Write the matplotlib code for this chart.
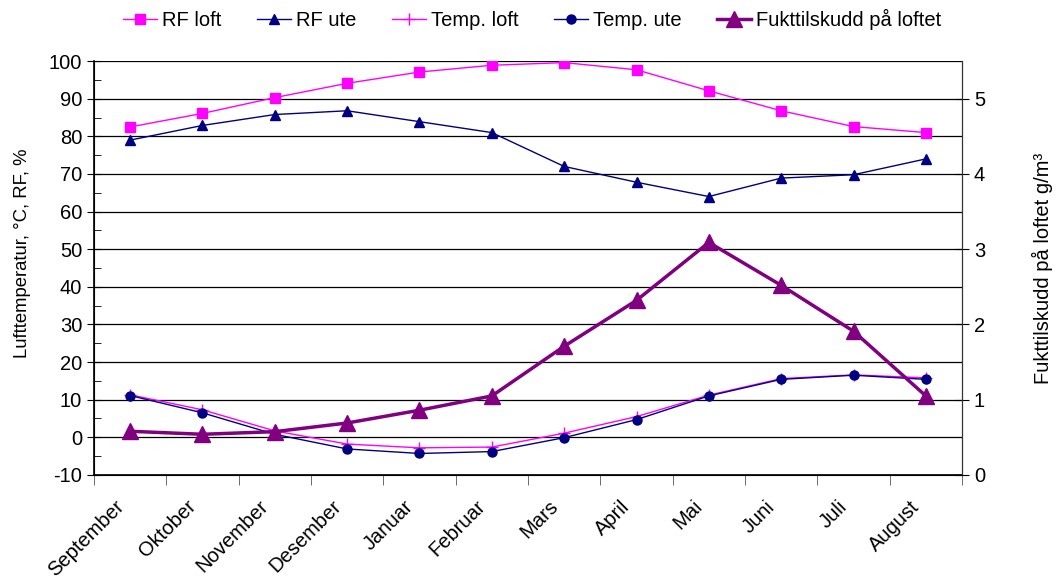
import matplotlib
matplotlib.use("Agg")
import matplotlib.pyplot as plt
import matplotlib.transforms as mtransforms
from matplotlib.ticker import MultipleLocator, FixedLocator

plt.rcParams['font.family'] = ['Liberation Sans', 'DejaVu Sans']
plt.rcParams['axes.unicode_minus'] = False

months = ["September", "Oktober", "November", "Desember", "Januar", "Februar",
          "Mars", "April", "Mai", "Juni", "Juli", "August"]

rf_loft = [82.5, 86.1, 90.3, 94.1, 97.1, 98.9, 99.6, 97.7, 92.1, 86.8, 82.6, 81.0]
rf_ute = [79.0, 82.9, 85.8, 86.8, 83.9, 81.0, 72.0, 67.8, 64.0, 68.9, 69.8, 74.0]
temp_loft = [11.3, 7.3, 1.7, -1.8, -2.8, -2.6, 1.1, 5.5, 11.2, 15.6, 16.6, 15.8]
temp_ute = [11.1, 6.5, 0.8, -3.1, -4.3, -3.8, -0.1, 4.7, 11.0, 15.4, 16.5, 15.4]
fukt = [0.58, 0.54, 0.575, 0.69, 0.86, 1.05, 1.71, 2.32, 3.09, 2.52, 1.91, 1.05]

MAGENTA = "#FF00FF"
NAVY = "#000080"
PURPLE = "#800080"
FS = 14.5

fig = plt.figure(figsize=(10.56, 5.82), dpi=100)
ax = fig.add_axes([0.089, 0.184, 0.822, 0.711])
ax2 = ax.twinx()

x = list(range(len(months)))

l1, = ax.plot(x, rf_loft, color=MAGENTA, lw=1, marker="s", ms=7, label="RF loft")
l2, = ax.plot(x, rf_ute, color=NAVY, lw=1, marker="^", ms=7, label="RF ute")
l3, = ax.plot(x, temp_loft, color=MAGENTA, lw=1, marker="+", ms=9, mew=1, label="Temp. loft")
l4, = ax.plot(x, temp_ute, color=NAVY, lw=1, marker="o", ms=6.5, label="Temp. ute")
l5, = ax2.plot(x, fukt, color=PURPLE, lw=2.5, marker="^", ms=11, label="Fukttilskudd på loftet")

ax.set_xlim(-0.5, 11.5)
ax.set_ylim(-10, 100)
ax2.set_ylim(0, 5.5)

ax.yaxis.set_major_locator(MultipleLocator(10))
ax.yaxis.set_minor_locator(MultipleLocator(5))
ax2.yaxis.set_major_locator(MultipleLocator(1))
ax2.yaxis.set_minor_locator(MultipleLocator(0.5))
ax.grid(True, axis="y", which="major", color="black", lw=0.9)
ax.set_axisbelow(True)

# month labels, placed by hand under each category
ax.set_xticks(x)
ax.set_xticklabels([])
ax.tick_params(axis="x", which="major", length=0)
offset = mtransforms.ScaledTranslation(-0.16, -0.22, fig.dpi_scale_trans)
for i, m in enumerate(months):
    ax.text(i, 0, m, transform=ax.get_xaxis_transform() + offset,
            rotation=45, ha="right", va="top", rotation_mode="anchor", fontsize=FS)

ax.xaxis.set_minor_locator(FixedLocator([i - 0.5 for i in range(13)]))
ax.tick_params(axis="x", which="minor", length=7, color="#555555")
for a in (ax, ax2):
    a.tick_params(axis="y", which="major", labelsize=FS, length=10, direction="inout")
    a.tick_params(axis="y", which="minor", length=5, direction="in")

for a in (ax, ax2):
    a.spines["top"].set_visible(False)
ax.spines["left"].set_linewidth(1.2)
ax.spines["bottom"].set_linewidth(1.2)
ax2.spines["right"].set_color("#333333")

ax.set_ylabel("Lufttemperatur, °C, RF, %", fontsize=13.3)
ax.yaxis.set_label_coords(-0.072, 0.536)
ax2.set_ylabel("Fukttilskudd på loftet g/m³", fontsize=FS, labelpad=34)

fig.legend(handles=[l1, l2, l3, l4, l5], loc="upper center", ncol=5, frameon=False,
           fontsize=FS, bbox_to_anchor=(0.504, 1.015), handlelength=1.7,
           columnspacing=1.75, handletextpad=0.25)

fig.savefig("out.png", dpi=100)
